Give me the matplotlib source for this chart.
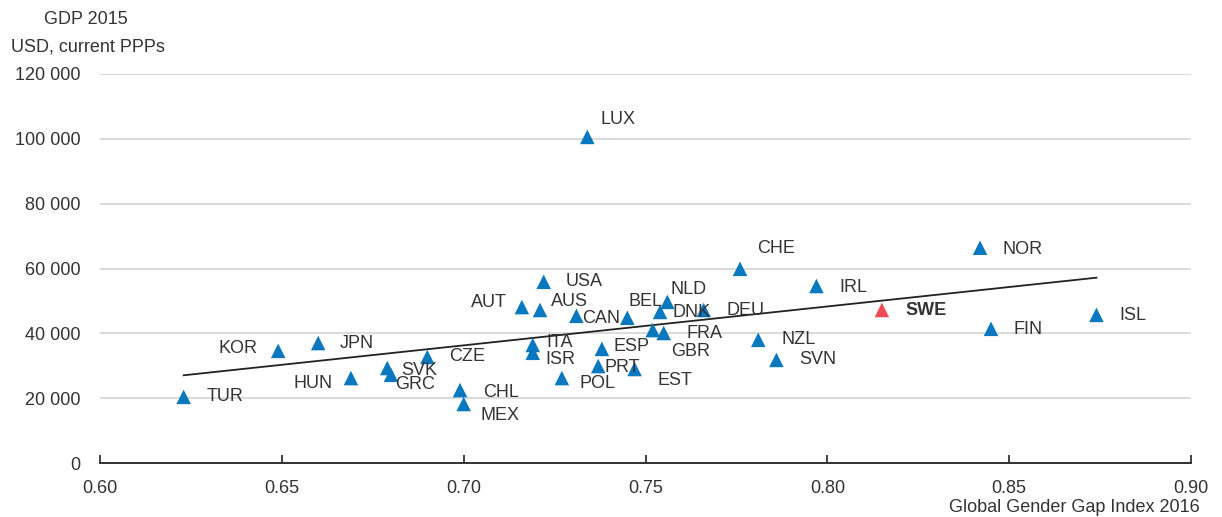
import numpy as np
import matplotlib
matplotlib.use("Agg")
import matplotlib.pyplot as plt
from matplotlib import font_manager

countries = ["TUR", "KOR", "JPN", "HUN", "SVK", "GRC", "CZE", "CHL", "MEX", "LUX",
             "USA", "AUT", "AUS", "CAN", "ITA", "ISR", "POL", "ESP", "PRT", "EST",
             "BEL", "NLD", "DNK", "FRA", "GBR", "DEU", "CHE", "NZL", "SVN", "IRL",
             "SWE", "NOR", "FIN", "ISL"]
gender_gap = [0.623, 0.649, 0.660, 0.669, 0.679, 0.680, 0.690, 0.699, 0.700, 0.734,
              0.722, 0.716, 0.721, 0.731, 0.719, 0.719, 0.727, 0.738, 0.737, 0.747,
              0.745, 0.756, 0.754, 0.752, 0.755, 0.766, 0.776, 0.781, 0.786, 0.797,
              0.815, 0.842, 0.845, 0.874]
gdp = [20400, 34600, 37000, 26200, 29300, 27200, 32700, 22500, 18200, 100600,
       55900, 48100, 47200, 45400, 36400, 34000, 26200, 35200, 29900, 29000,
       44800, 49700, 46600, 41000, 40100, 47200, 59900, 38000, 31800, 54600,
       47200, 66400, 41400, 45700]
highlight = "SWE"

x_ticks = [0.60, 0.65, 0.70, 0.75, 0.80, 0.85, 0.90]
y_ticks = [0, 20000, 40000, 60000, 80000, 100000, 120000]

# label offsets in pixels (dx, dy) from the marker and horizontal alignment
label_pos = {
    "TUR": (23, 0, "left"), "KOR": (-21, 2, "right"), "JPN": (22, 0, "left"),
    "HUN": (-18, -5, "right"), "SVK": (14, -2, "left"), "GRC": (4, -10, "left"),
    "CZE": (22, 0, "left"), "CHL": (23, -2, "left"), "MEX": (17, -11, "left"),
    "LUX": (13, 17, "left"), "USA": (22, 0, "left"), "AUT": (-15, 5, "right"),
    "AUS": (11, 8, "left"), "CAN": (6, -3, "left"), "ITA": (14, 3, "left"),
    "ISR": (13, -7, "left"), "POL": (18, -5, "left"), "ESP": (12, 2, "left"),
    "PRT": (6, -1, "left"), "EST": (23, -12, "left"), "BEL": (1, 16, "left"),
    "NLD": (3, 12, "left"), "DNK": (12, -1, "left"), "FRA": (34, -3, "left"),
    "GBR": (7, -18, "left"), "DEU": (23, -1, "left"), "CHE": (17, 20, "left"),
    "NZL": (23, 0, "left"), "SVN": (23, 0, "left"), "IRL": (23, -1, "left"),
    "SWE": (24, -1, "left"), "NOR": (22, -2, "left"), "FIN": (23, -1, "left"),
    "ISL": (23, -1, "left"),
}

available = {f.name for f in font_manager.fontManager.ttflist}
family = ["Liberation Sans Narrow", "Liberation Sans", "DejaVu Sans"]
family = [f for f in family if f in available] or ["DejaVu Sans"]
plt.rcParams["font.family"] = family

blue = "#0a78bf"
red = "#ef4b55"
text_col = "#333333"

fig = plt.figure(figsize=(12.22, 5.17), dpi=100)
ax = fig.add_axes([100 / 1222, 1 - 463 / 517, 1091 / 1222, 389 / 517])

x = np.array(gender_gap)
y = np.array(gdp)
colors = [red if c == highlight else blue for c in countries]
ax.scatter(x, y, marker="^", s=110, c=colors, linewidths=0, zorder=3)

slope, intercept = np.polyfit(x, y, 1)
xl = np.array([x.min(), x.max()])
ax.plot(xl, slope * xl + intercept, color="#222222", lw=1.3, zorder=2)

for c, xi, yi in zip(countries, x, y):
    dx, dy, ha = label_pos[c]
    ax.annotate(c, (xi, yi), xytext=(dx * 0.72, dy * 0.72), textcoords="offset points",
                ha=ha, va="center", fontsize=13, color=text_col,
                fontweight="bold" if c == highlight else "normal", zorder=4)

ax.set_xlim(0.60, 0.90)
ax.set_ylim(0, 120000)
ax.set_xticks(x_ticks)
ax.set_xticklabels([f"{t:.2f}" for t in x_ticks])
ax.set_yticks(y_ticks)
ax.set_yticklabels([f"{t:,}".replace(",", " ") for t in y_ticks])
ax.grid(axis="y", color="#d4d4d4", lw=1.2, zorder=0)
ax.set_axisbelow(True)
for s in ["top", "right", "left"]:
    ax.spines[s].set_visible(False)
ax.spines["bottom"].set_color("#222222")
ax.spines["bottom"].set_linewidth(1.3)
ax.tick_params(axis="x", direction="in", length=6, width=1.2, color="#222222",
               labelsize=13, labelcolor=text_col, pad=12)
ax.tick_params(axis="y", length=0, labelsize=13, labelcolor=text_col, pad=14)

fig.text(86 / 1222, 1 - 20 / 517, "GDP 2015", ha="center", va="center",
         fontsize=13, color=text_col)
fig.text(88 / 1222, 1 - 47 / 517, "USD, current PPPs", ha="center", va="center",
         fontsize=13, color=text_col)
fig.text(1200 / 1222, 1 - 508 / 517, "Global Gender Gap Index 2016", ha="right",
         va="center", fontsize=13, color=text_col)

fig.savefig("out.png", dpi=100)
